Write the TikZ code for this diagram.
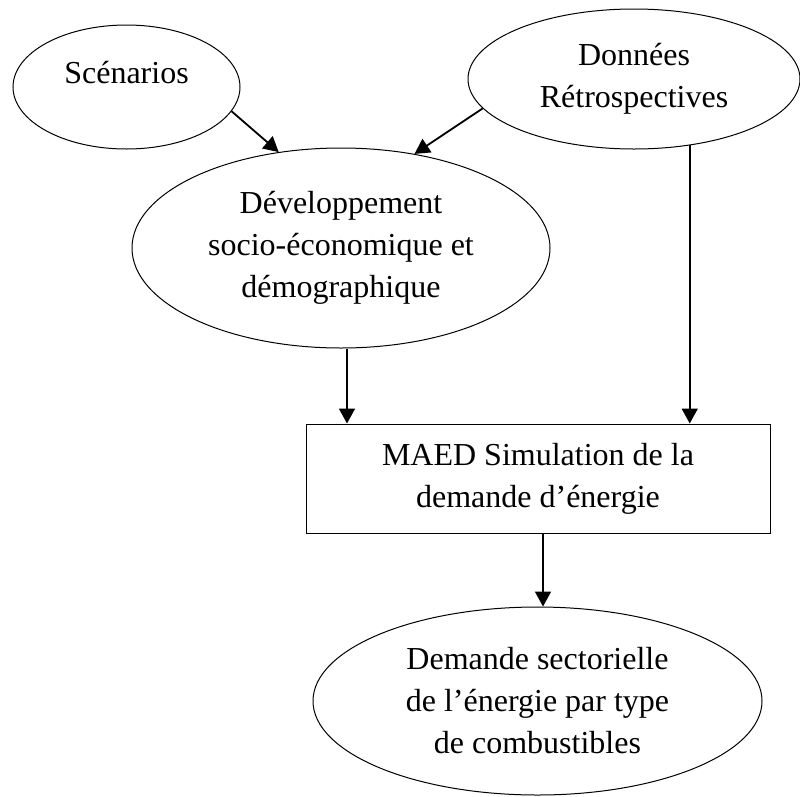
\documentclass[tikz,border=0pt]{standalone}
\usepackage{fontspec}
\setmainfont{Liberation Serif}
\usetikzlibrary{arrows.meta,shapes.geometric,calc}
\tikzset{every picture/.style={/utils/exec={\fontsize{32}{42}\selectfont}}}
\tikzset{oval/.style={draw,ellipse,line width=1pt,inner sep=0pt,align=center}}
\tikzset{box/.style={draw,rectangle,line width=1pt,inner sep=0pt,align=center}}
\tikzset{arr/.style={-{Triangle[length=15pt,width=16pt]},line width=1.8pt}}

\begin{document}
\begin{tikzpicture}[x=1pt,y=-1pt]
    \useasboundingbox (0,0) rectangle (800,796);
    \node [oval,minimum width=227pt,minimum height=124pt,text height=24pt,text depth=32pt] (scen) at (126.5,87) {Scénarios};
    \node [oval,minimum width=332pt,minimum height=140pt] (don) at (634,79) {Données\\Rétrospectives};
    \node [oval,minimum width=418pt,minimum height=200pt] (dev) at (341,248) {Développement\\socio-économique et\\démographique};
    \node [box,minimum width=464pt,minimum height=109pt] (maed) at (538,478.5) {MAED Simulation de la\\demande d’énergie};
    \node [oval,minimum width=449pt,minimum height=188pt] (dem) at (537.5,701) {Demande sectorielle\\de l’énergie par type\\de combustibles};
    \coordinate (devout) at ($(dev.south)+(6,0)$);
    \coordinate (maedout) at ($(maed.south)+(5,0)$);
    \draw [arr] (scen.-13.6) -- (dev.123.1);
    \draw [arr] (don.191.5) -- (dev.52.9);
    \draw [arr] (don.-50.7) -- (don.-50.7 |- maed.north);
    \draw [arr] (devout) -- (devout |- maed.north);
    \draw [arr] (maedout) -- (maedout |- dem.north);
\end{tikzpicture}
\end{document}
